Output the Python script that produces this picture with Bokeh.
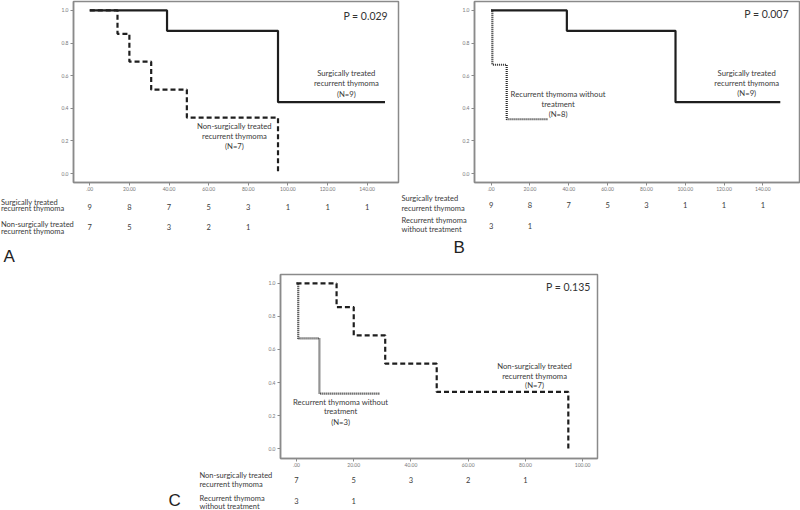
from bokeh.plotting import figure
from bokeh.models import Range1d, FixedTicker, Label, Spacer
from bokeh.layouts import row, column
from bokeh.core.properties import value
from bokeh.embed import file_html
from bokeh.resources import INLINE

# ---------------- data ----------------
time_ticks = [0, 20, 40, 60, 80, 100, 120, 140]
time_tick_labels = [".00", "20.00", "40.00", "60.00", "80.00", "100.00", "120.00", "140.00"]
surv_ticks = [0.0, 0.2, 0.4, 0.6, 0.8, 1.0]
surv_tick_labels = ["0.0", "0.2", "0.4", "0.6", "0.8", "1.0"]

surg_time = [0, 39, 95, 149]
surg_surv = [1.0, 0.875, 0.4375, 0.4375]
nonsurg_time = [0, 14, 20, 31, 49, 95]
nonsurg_surv = [1.0, 0.857, 0.686, 0.514, 0.343, 0.0]
notx_time = [0, 0.6, 8, 29]
notx_surv = [1.0, 0.667, 0.333, 0.333]

surg_at_risk = [9, 8, 7, 5, 3, 1, 1, 1]
nonsurg_at_risk = [7, 5, 3, 2, 1]
notx_at_risk = [3, 1]

surg_label = ["Surgically treated", "recurrent thymoma"]
nonsurg_label = ["Non-surgically treated", "recurrent thymoma"]
notx_label = ["Recurrent thymoma", "without treatment"]

p_value_a = "P = 0.029"
p_value_b = "P = 0.007"
p_value_c = "P = 0.135"

FONT = "Lato"
TXT = "#3a3a3a"
GREY = "#8a8a8a"

STYLES = {
    "surg": dict(line_dash="solid", line_width=2.2, line_color="#1e1e1e"),
    "nonsurg": dict(line_dash="5 3", line_width=2.2, line_color="#1e1e1e"),
    "notx": dict(line_dash="1 1", line_width=2.2, line_color="#2a2a2a"),
}


def make_panel(width, height, bl, br, bt, bb, xr, yr, nticks, curves, notes, pval, ptext):
    p = figure(width=width, height=height, output_backend="svg", toolbar_location=None,
               x_range=Range1d(*xr), y_range=Range1d(*yr))
    p.min_border_left = bl
    p.min_border_right = br
    p.min_border_top = bt
    p.min_border_bottom = bb
    p.xgrid.visible = False
    p.ygrid.visible = False
    p.outline_line_color = GREY
    p.outline_line_width = 1.5
    p.background_fill_color = "white"
    p.border_fill_color = "white"

    ticks = time_ticks[:nticks]
    p.xaxis.ticker = FixedTicker(ticks=ticks)
    p.xaxis.major_label_overrides = {t: l for t, l in zip(ticks, time_tick_labels)}
    p.yaxis.ticker = FixedTicker(ticks=surv_ticks)
    p.yaxis.major_label_overrides = {t: l for t, l in zip(surv_ticks, surv_tick_labels)}
    for ax in (p.xaxis, p.yaxis):
        ax.axis_line_color = GREY
        ax.axis_line_width = 1.5
        ax.major_tick_line_color = GREY
        ax.major_tick_in = 0
        ax.major_tick_out = 3
        ax.minor_tick_line_color = None
        ax.major_label_text_font = FONT
        ax.major_label_text_font_size = "5px"
        ax.major_label_text_color = "#777777"
    p.xaxis.major_label_standoff = 1
    p.yaxis.major_label_standoff = 2

    for key, t, s in curves:
        p.step(t, s, mode="after", **STYLES[key])

    for x, ys, lines in notes:
        for yy, ln in zip(ys, lines):
            p.add_layout(Label(x=x, y=yy, text=ln, text_align="center", text_baseline="middle",
                               text_font=FONT, text_font_size="7.7px", text_color=TXT))

    px, py = pval
    p.add_layout(Label(x=px, y=py, text=ptext, text_align="right", text_baseline="middle",
                       text_font=FONT, text_font_size="10.5px", text_color="#333333"))
    return p


def make_table(panel, theight, label_px, rows, letter, letter_pos):
    """At-risk table below a panel; its x scale continues the panel's time scale."""
    W = panel.width
    bl, br = panel.min_border_left, panel.min_border_right
    x0, x1 = panel.x_range.start, panel.x_range.end
    ppx = (x1 - x0) / (W - bl - br)
    tx0, tx1 = x0 - bl * ppx, x1 + br * ppx
    t = figure(width=W, height=theight, output_backend="svg", toolbar_location=None,
               x_range=Range1d(tx0, tx1), y_range=Range1d(theight, 0),
               x_axis_location=None, y_axis_location=None)
    t.min_border = 0
    t.min_border_left = t.min_border_right = t.min_border_top = t.min_border_bottom = 0
    t.xgrid.visible = False
    t.ygrid.visible = False
    t.outline_line_color = None
    t.background_fill_color = "white"
    t.border_fill_color = "white"

    lab_x = tx0 + label_px * ppx
    for lines, counts, line_ys, num_y in rows:
        t.text(x=[lab_x] * len(lines), y=line_ys, text=lines, text_align="left",
               text_baseline="middle", text_font=value(FONT), text_font_size="7.5px",
               text_color=TXT)
        t.text(x=time_ticks[:len(counts)], y=[num_y] * len(counts), text=[str(c) for c in counts],
               text_align="center", text_baseline="middle", text_font=value(FONT),
               text_font_size="7.5px", text_color=TXT)
    lx, ly = letter_pos
    t.text(x=[tx0 + lx * ppx], y=[ly], text=[letter], text_align="left", text_baseline="middle",
           text_font=value("Liberation Sans"), text_font_size="17px", text_color="#222222")
    return t


# ---- panel A (page x 0..400, y 0..266) ----
pa = make_panel(
    400, 193, 73, 2, 1, 10, (-8.2, 155.8), (-0.055, 1.055), 8,
    [("surg", surg_time, surg_surv), ("nonsurg", nonsurg_time, nonsurg_surv)],
    [(129.5, [0.616, 0.555, 0.488], surg_label + ["(N=9)"]),
     (73, [0.293, 0.232, 0.171], nonsurg_label + ["(N=7)"])],
    (150.5, 0.966), p_value_a)
ta = make_table(pa, 73, 0.5,
                [(surg_label, surg_at_risk, [8.7, 15.3], 13.2),
                 (nonsurg_label, nonsurg_at_risk, [31, 37.7], 33.7)],
                "A", (3, 63))

# ---- panel B (page x 400..800) ----
pb = make_panel(
    400, 193, 74, 1, 1, 10, (-8.6, 158.9), (-0.055, 1.055), 8,
    [("surg", surg_time, surg_surv), ("notx", notx_time, notx_surv)],
    [(131.7, [0.617, 0.557, 0.496], surg_label + ["(N=9)"]),
     (34.5, [0.488, 0.425, 0.366], ["Recurrent thymoma without", "treatment", "(N=8)"])],
    (153.4, 0.976), p_value_b)
tb = make_table(pb, 73, 1,
                [(surg_label, surg_at_risk, [4.5, 14.7], 11),
                 (notx_label, notx_at_risk, [27, 36.3], 32)],
                "B", (53, 53.5))

# ---- panel C (page x 160..600, y 266..510) ----
pc = make_panel(
    440, 203, 120, 3, 8, 10, (-5.6, 105.2), (-0.060, 1.054), 6,
    [("nonsurg", nonsurg_time, nonsurg_surv), ("notx", notx_time, notx_surv)],
    [(83.2, [0.502, 0.441, 0.385], nonsurg_label + ["(N=7)"]),
     (15.4, [0.285, 0.227, 0.164], ["Recurrent thymoma without", "treatment", "(N=3)"])],
    (102.8, 0.978), p_value_c)
tc = make_table(pc, 41, 39,
                [(nonsurg_label, nonsurg_at_risk, [6, 15], 10.8),
                 (notx_label, notx_at_risk, [28.5, 36.8], 31.5)],
                "C", (8, 31))

layout = column(row(column(pa, row(ta)), column(pb, row(tb))),
                row(Spacer(width=160, height=244), column(pc, row(tc))))

open("out.html", "w").write(file_html(layout, INLINE))
